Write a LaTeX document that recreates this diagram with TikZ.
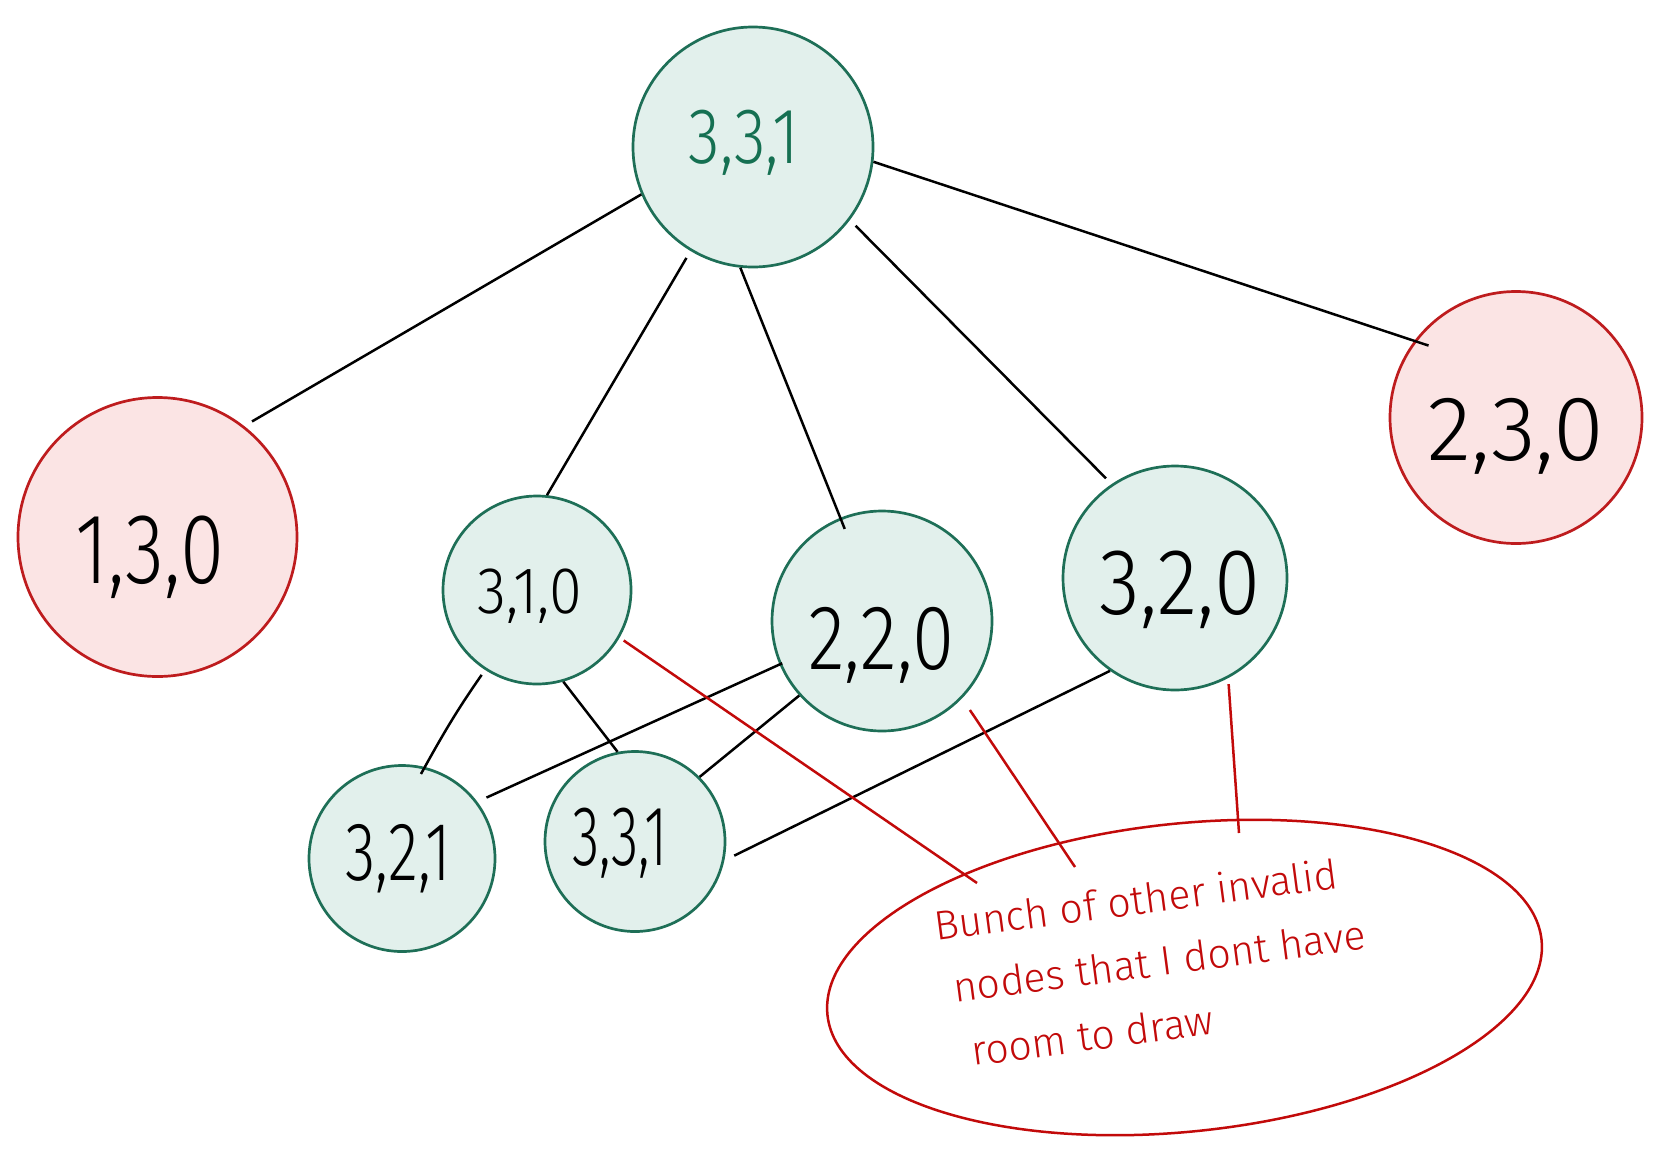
\documentclass[tikz,border=0pt]{standalone}
\usepackage{fontspec}
\newfontfamily\hand{Fira Sans Light}
\usetikzlibrary{shapes.geometric}
\definecolor{okfill}{HTML}{E2F0EC}
\definecolor{okline}{HTML}{1E6F57}
\definecolor{topink}{HTML}{157052}
\definecolor{badfill}{HTML}{FBE4E4}
\definecolor{badline}{HTML}{BE1C1E}
\definecolor{redink}{HTML}{C20A0A}
\begin{document}
\begin{tikzpicture}[x=1pt,y=-1pt,
  state/.style={circle, line width=2.7pt, inner sep=0pt, minimum size=#1},
  okstate/.style={state=#1, draw=okline, fill=okfill},
  badstate/.style={state=#1, draw=badline, fill=badfill},
  lab/.style={font=\hand\fontsize{#1}{#1}\selectfont, inner sep=0pt, anchor=base},
  note/.style={font=\hand\fontsize{41}{41}\selectfont, text=redink, inner sep=0pt,
    anchor=base west, rotate=7.5},
  link/.style={line width=2.5pt, draw=black},
  redlink/.style={line width=2.5pt, draw=redink}]

\fill[white] (0,0) rectangle (1656,1159);
\useasboundingbox (0,0) rectangle (1656,1159);

% states
\node[okstate=240pt]  (top)  at (753,147)    {};
\node[badstate=279pt] (n130) at (157.5,537)  {};
\node[badstate=252pt] (n230) at (1516,417.5) {};
\node[okstate=188pt]  (n310) at (537,590)    {};
\node[okstate=220pt]  (n220) at (882,621)    {};
\node[okstate=224pt]  (n320) at (1175,578)   {};
\node[okstate=186pt]  (n321) at (402,858.5)  {};
\node[okstate=180pt]  (n331) at (635,841.5)  {};
\node[ellipse, draw=redink, line width=2.5pt, minimum width=718pt,
      minimum height=308pt, inner sep=0pt, rotate=6] (rest) at (1184.5,977.5) {};

% edges of the search tree
\draw[link, shorten >=9pt] (top.203) -- (n130.52);
\draw[link, shorten <=8pt] (top.239) -- (n310.84);
\draw[link, shorten >=-12pt] (top.264) -- (n220.112);
\draw[link, shorten <=8pt, shorten >=8pt] (top.323) -- (n320.124);
\draw[link, shorten >=-15pt] (top.353) -- (n230.143);
\draw[link, shorten <=6pt, shorten >=-8pt] (n310.237) to[bend right=3] (n321.76);
\draw[link] (n310.286) -- (n331.101);
\draw[link, shorten <=-3pt, shorten >=10pt] (n220.203) -- (n321.37);
\draw[link] (n220.222) -- (n331.45);
\draw[link, shorten >=11pt] (n320.235) -- (n331.348);

% links into the group of other states
\coordinate (e1) at (977,883);
\coordinate (e2) at (1075,867);
\coordinate (e3) at (1239,833);
\draw[redlink, shorten <=5pt] (n310.330) -- (e1);
\draw[redlink, shorten <=14pt] (n220.316) -- (e2);
\draw[redlink, shorten <=6pt] (n320.298) -- (e3);

% state labels
\node[lab=79, text=topink, xscale=0.82] (ltop) at (744,163) {3,3,1};
\node[lab=100, xscale=0.80] (l130) at (150,583) {1,3,0};
\node[lab=92, xscale=1.0] (l230) at (1516,460) {2,3,0};
\node[lab=66, xscale=0.90] (l310) at (530,613) {3,1,0};
\node[lab=83, xscale=0.75] (l321) at (398,880) {3,2,1};
\node[lab=85, xscale=0.66] (l331) at (620,865) {3,3,1};
\node[lab=92, xscale=0.83] (l220) at (881,669) {2,2,0};
\node[lab=94, xscale=0.89] (l320) at (1180,614) {3,2,0};

% note inside the ellipse
\node[note] (t1) at (936,941)  {Bunch of other invalid};
\node[note] (t2) at (955,1003) {nodes that I dont have};
\node[note] (t3) at (973,1066) {room to draw};
\end{tikzpicture}
\end{document}
